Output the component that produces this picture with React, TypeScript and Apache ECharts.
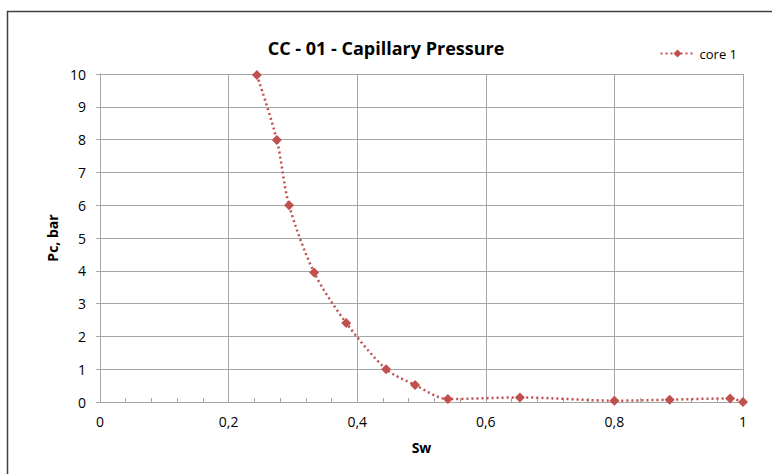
import React, { useEffect, useRef } from "react";
import * as echarts from "echarts";

const swValues = [0.244, 0.275, 0.294, 0.333, 0.383, 0.445, 0.49, 0.541, 0.653, 0.8, 0.886, 0.98, 1.0];
const pcValues = [9.97, 7.99, 6.0, 3.95, 2.41, 1.0, 0.52, 0.09, 0.14, 0.04, 0.07, 0.11, 0.0];
const seriesName = "core 1";
const titleText = "CC - 01 - Capillary Pressure";
const xAxisName = "Sw";
const yAxisName = "Pc, bar";

const FONT = "'Open Sans', 'Noto Sans', sans-serif";
const RED = "#c0504d";

export default function App() {
  const ref = useRef<HTMLDivElement>(null);
  useEffect(() => {
    if (!ref.current) return;
    const chart = echarts.init(ref.current, undefined, { renderer: "svg" });
    const data = swValues.map((x, i) => [x, pcValues[i]]);
    chart.setOption({
      animation: false,
      backgroundColor: "#ffffff",
      title: {
        text: titleText,
        left: "center",
        top: 34,
        textStyle: { fontFamily: FONT, fontSize: 18, fontWeight: "bold", color: "#000" },
      },
      legend: {
        right: 30,
        top: 42,
        itemWidth: 34,
        itemHeight: 10,
        itemGap: 6,
        textStyle: { fontFamily: FONT, fontSize: 13, color: "#000" },
        data: [seriesName],
      },
      grid: { left: 100, right: 29, top: 74, bottom: 72, containLabel: false },
      xAxis: {
        type: "value",
        min: 0,
        max: 1,
        interval: 0.2,
        name: xAxisName,
        nameLocation: "middle",
        nameGap: 38,
        nameTextStyle: { fontFamily: FONT, fontSize: 14, fontWeight: "bold", color: "#000" },
        axisLine: { show: true, lineStyle: { color: "#a6a6a6", width: 1 } },
        axisTick: { show: false, inside: true },
        minorTick: { show: true, splitNumber: 5, length: 4, lineStyle: { color: "#a6a6a6" } },
        axisLabel: {
          fontFamily: FONT,
          fontSize: 14,
          color: "#000",
          margin: 12,
          formatter: (v: number) => String(Math.round(v * 10) / 10).replace(".", ","),
        },
        splitLine: { show: true, lineStyle: { color: "#a6a6a6", width: 1 } },
      },
      yAxis: {
        type: "value",
        min: 0,
        max: 10,
        interval: 1,
        name: yAxisName,
        nameLocation: "middle",
        nameGap: 38,
        nameRotate: 90,
        nameTextStyle: { fontFamily: FONT, fontSize: 14, fontWeight: "bold", color: "#000" },
        axisLine: { show: true, lineStyle: { color: "#a6a6a6", width: 1 } },
        axisTick: { show: true, inside: false, length: 4, lineStyle: { color: "#a6a6a6" } },
        axisLabel: { fontFamily: FONT, fontSize: 14, color: "#000", margin: 14 },
        splitLine: { show: true, lineStyle: { color: "#a6a6a6", width: 1 } },
      },
      graphic: [
        {
          type: "rect",
          shape: { x: 7.5, y: 11.5, width: 800, height: 500 },
          style: { fill: "none", stroke: "#404040", lineWidth: 1.5 },
          silent: true,
          z: 100,
        },
      ],
      series: [
        {
          name: seriesName,
          type: "line",
          data,
          symbol: "diamond",
          symbolSize: 10,
          smooth: 0.3,
          itemStyle: { color: RED },
          lineStyle: { color: RED, width: 2.5, type: [2, 3] },
          clip: false,
        },
      ],
    });
    return () => chart.dispose();
  }, []);
  return (
    <div
      ref={ref}
      style={{ position: "fixed", left: 0, top: 0, width: 772, height: 474 }}
    />
  );
}
